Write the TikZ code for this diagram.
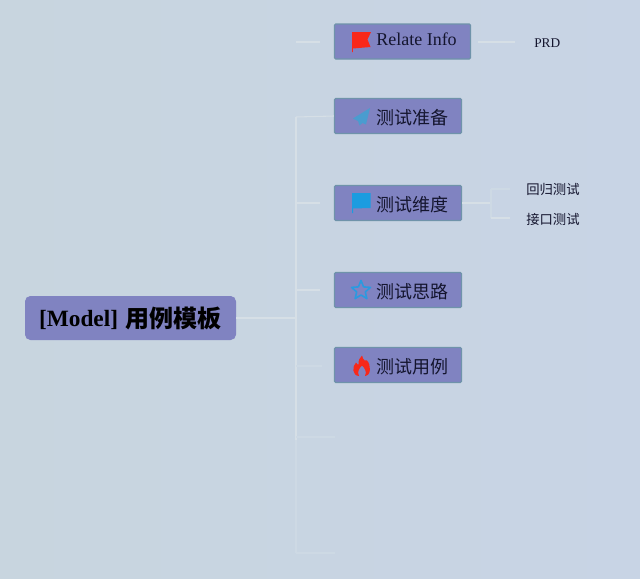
\documentclass[tikz,border=0pt]{standalone}
\usepackage{fontspec}
\setmainfont{Liberation Serif}
\newfontfamily\cjk{Noto Sans CJK SC}
\definecolor{pagebgl}{HTML}{C8D5DF}
\definecolor{pagebgr}{HTML}{C8D4E5}
\definecolor{boxfill}{HTML}{8083C1}
\definecolor{boxedge}{HTML}{6F93AA}
\definecolor{boxtext}{HTML}{14152E}
\definecolor{linebright}{HTML}{D6DFE6}
\definecolor{linefaint}{HTML}{CDD9E4}
\definecolor{flagred}{HTML}{F8281A}
\definecolor{flagblue}{HTML}{1B9CE0}
\definecolor{planeblue}{HTML}{4A9CCF}
\definecolor{starblue}{HTML}{2A9AE0}
\tikzset{
  rootbox/.style={fill=boxfill, rounded corners=4pt, minimum width=158.25pt, minimum height=33pt, inner sep=0pt},
  topicbox/.style={draw=boxedge, line width=0.9pt, fill=boxfill, rounded corners=1pt, minimum width=95.25pt, minimum height=26.25pt, inner sep=0pt},
  topictext/.style={anchor=west, inner sep=0pt, text=boxtext, font=\fontsize{13.5}{16}\selectfont},
  leaftext/.style={inner sep=0pt, text=boxtext, font=\fontsize{10}{12}\selectfont},
  trunkline/.style={draw=linebright, line width=1.4pt},
  branchline/.style={draw=linebright, line width=0.8pt},
  faintline/.style={draw=linefaint, line width=1.2pt},
  pics/redflag/.style={code={
    \fill[flagred] (0,0) -- (19,0) -- (15.5,7.5) -- (18.5,15) -- (0.8,16.5) -- (0.8,20) -- (0,20) -- cycle;
  }},
  pics/blueflag/.style={code={
    \fill[flagblue] (0,0) -- (18.5,0) -- (18.5,15) -- (1,15.5) -- (1,20) -- (0,20) -- cycle;
  }},
  pics/plane/.style={code={
    \fill[planeblue] (17,0) -- (0,10.5) -- (5,13) -- (6.5,17.5) -- (9.5,15) -- (13,16.5) -- cycle;
  }},
  pics/staricon/.style={code={
    \draw[starblue, line width=1.2pt, line join=round] (0,-10) -- (2.6,-3.6) -- (9.5,-3.1) -- (4.3,1.4) -- (5.9,8.1) -- (0,4.5) -- (-5.9,8.1) -- (-4.3,1.4) -- (-9.5,-3.1) -- (-2.6,-3.6) -- cycle;
  }},
  pics/fireicon/.style={code={
    \fill[flagred, even odd rule] (9,0) .. controls (10,5) and (13,6) .. (14,5) .. controls (18,9) and (18.5,20) .. (12,20.5) .. controls (14.5,16) and (11,12) .. (9,10) .. controls (7,12) and (3.5,16) .. (6,20.5) .. controls (-1,20) and (-1,11) .. (3,7) .. controls (4,9) and (5,9) .. (5.5,9) .. controls (5,5) and (7,2) .. (9,0) -- cycle;
  }},
}
\begin{document}
\begin{tikzpicture}[x=0.75pt,y=-0.75pt]
  \useasboundingbox[left color=pagebgl, right color=pagebgr] (0,0) rectangle (640,579);

  % Root and its first level
  \node[rootbox] (root) at (130.5,318) {\fontsize{17.5}{20}\selectfont\bfseries\raisebox{-1pt}{[Model]}\hspace{1.5pt} \raisebox{-1.5pt}{\cjk\fontsize{18}{20}\selectfont 用例模板}};
  \node[topicbox, minimum width=102pt] (relate) at (402.5,41.5) {};
  \node[topicbox] (prep) at (398,116) {};
  \node[topicbox] (dims) at (398,203) {};
  \node[topicbox] (idea) at (398,290) {};
  \node[topicbox] (cases) at (398,365) {};

  % Box labels
  \node[topictext] (relatetext) at (376,39.5) {Relate Info};
  \node[topictext] (preptext) at (376,118) {\cjk 测试准备};
  \node[topictext] (dimstext) at (376,205) {\cjk 测试维度};
  \node[topictext] (ideatext) at (376,292) {\cjk 测试思路};
  \node[topictext] (casestext) at (376,367) {\cjk 测试用例};

  % Leaves
  \node[leaftext, anchor=west] (prd) at (534,43.5) {PRD};
  \node[leaftext, anchor=west] (regress) at (526,189.5) {\cjk 回归测试};
  \node[leaftext, anchor=west] (iface) at (526,219) {\cjk 接口测试};

  % Icons
  \pic at (352,32) {redflag};
  \pic at (353,108) {plane};
  \pic at (352,193) {blueflag};
  \pic at (361,290.5) {staricon};
  \pic at (353,355.5) {fireicon};

  % Trunk and branch points
  \coordinate (trunktop) at (296,117);
  \coordinate (trunkmid) at (296,318);
  \coordinate (trunkend) at (296,440);
  \coordinate (faintend) at (296,553);
  \coordinate (relatestub) at (296,42);
  \coordinate (relategap) at (320,42);
  \coordinate (prdstart) at (478,42);
  \coordinate (prdend) at (515,42);
  \coordinate (dimsfork) at (491,203);
  \coordinate (forktop) at (491,189);
  \coordinate (forkbot) at (491,218);
  \coordinate (regressend) at (510,189);
  \coordinate (ifaceend) at (510,218);
  \coordinate (dimsstub) at (320,203);
  \coordinate (ideastub) at (320,290);
  \coordinate (casesstub) at (322,366);
  \coordinate (lowstub) at (335,437);
  \coordinate (lowend) at (335,553);

  \draw[trunkline] (trunktop) -- (trunkend);
  \draw[faintline] (trunkend) -- (faintend);
  \draw[branchline] (root.east) -- (trunkmid);
  \draw[branchline] (trunktop) -- (prep.west);
  \draw[branchline] (trunktop |- dimsstub) -- (dimsstub);
  \draw[branchline] (trunktop |- ideastub) -- (ideastub);
  \draw[faintline] (trunktop |- casesstub) -- (casesstub);
  \draw[faintline] (trunktop |- lowstub) -- (lowstub);
  \draw[faintline] (faintend) -- (lowend);
  \draw[branchline] (relatestub) -- (relategap);
  \draw[branchline] (prdstart) -- (prdend);
  \draw[branchline] (dims.east) -- (dimsfork);
  \draw[faintline] (forktop) -- (forkbot);
  \draw[faintline] (forktop) -- (regressend);
  \draw[branchline] (forkbot) -- (ifaceend);
\end{tikzpicture}
\end{document}
